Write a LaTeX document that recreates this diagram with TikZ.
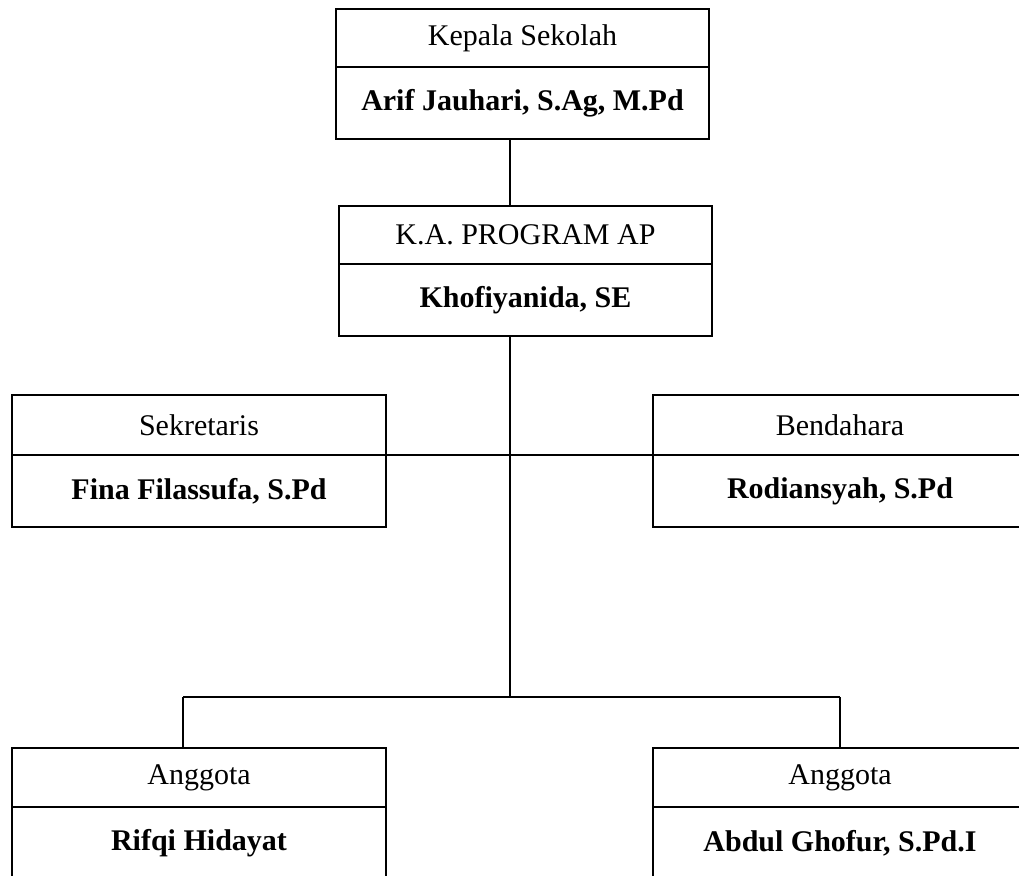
\documentclass[tikz,border=0pt]{standalone}
\usepackage{fontspec}
\setmainfont{Liberation Serif}
\usetikzlibrary{calc}
\begin{document}
\begin{tikzpicture}[x=0.5pt,y=-0.5pt,
  every node/.style={font=\fontsize{15}{17}\selectfont},
  cell/.style={draw, line width=1pt, rectangle, inner sep=0pt, outer sep=0pt,
               minimum width=187pt, anchor=north west},
  head/.style={cell, minimum height=30pt},
  namecell/.style={cell, minimum height=36pt,
                   font=\fontsize{15}{17}\selectfont\bfseries},
  link/.style={line width=1pt}]
\useasboundingbox (0,0) rectangle (1019,875);
\clip (0,0) rectangle (1019,875);

% Kepala Sekolah
\node[head, minimum height=29pt, minimum width=186.5pt] (kepH) at (336,9) {Kepala Sekolah};
\node[namecell, minimum width=186.5pt] (kepN) at (kepH.south west) {Arif Jauhari, S.Ag, M.Pd};

% K.A. Program
\node[head, minimum height=29pt, minimum width=186.5pt] (progH) at (339,206) {K.A. PROGRAM AP};
\node[namecell, minimum width=186.5pt] (progN) at (progH.south west) {Khofiyanida, SE};

% Sekretaris and Bendahara
\node[head] (sekH) at (12,395) {Sekretaris};
\node[namecell] (sekN) at (sekH.south west) {Fina Filassufa, S.Pd};
\node[head] (benH) at (653,395) {Bendahara};
\node[namecell] (benN) at (benH.south west) {Rodiansyah, S.Pd};

% Anggota
\node[head, minimum height=29.5pt] (angLH) at (12,748) {Anggota};
\node[namecell] (angLN) at (angLH.south west) {Rifqi Hidayat};
\node[head, minimum height=29.5pt] (angRH) at (653,748) {Anggota};
\node[namecell] (angRN) at (angRH.south west) {Abdul Ghofur, S.Pd.I};

% connectors
\coordinate (spine) at (510,0);
\coordinate (bus) at (510,697);
\coordinate (dropL) at (183,697);
\coordinate (dropR) at (840,697);
\draw[link] (kepN.south -| spine) -- (progH.north -| spine);
\draw[link] (progN.south -| spine) -- (bus);
\draw[link] (sekH.south east) -- (benH.south west);
\draw[link] (dropL) -- (dropR);
\draw[link] (dropL) -- (dropL |- angLH.north);
\draw[link] (dropR) -- (dropR |- angRH.north);
\end{tikzpicture}
\end{document}
